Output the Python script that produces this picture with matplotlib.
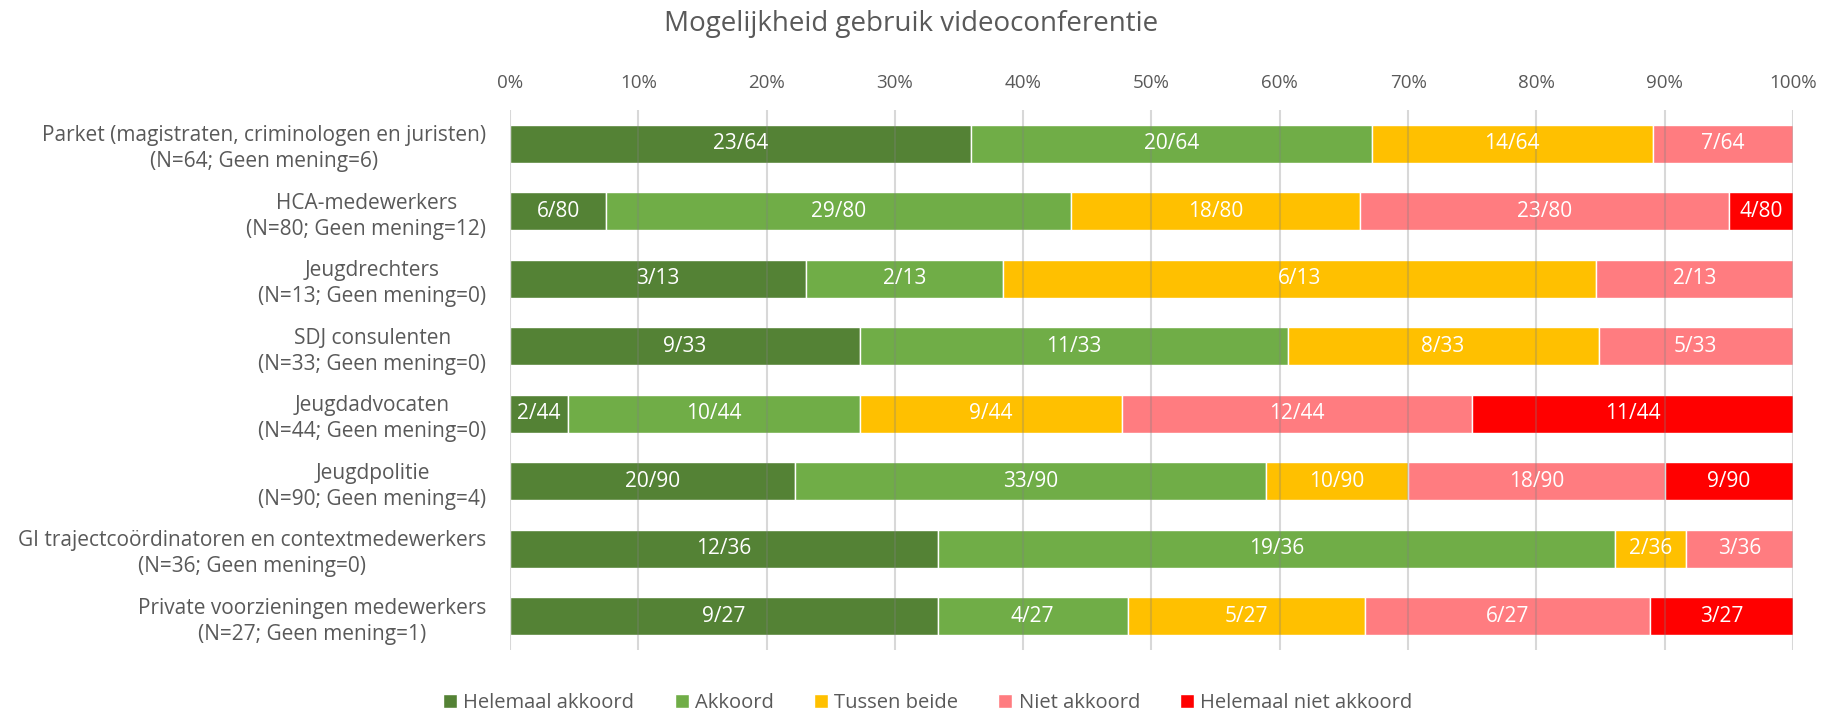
import numpy as np
import matplotlib
matplotlib.use("Agg")
import matplotlib.pyplot as plt

plt.rcParams.update({
    "font.family": ["Open Sans", "DejaVu Sans"],
    "text.color": "#595959",
    "axes.labelcolor": "#595959",
    "xtick.color": "#595959",
    "ytick.color": "#595959",
})

# ── Data ─────────────────────────────────────────────────────────────
groups = [
    "Parket (magistraten, criminologen en juristen)\n(N=64; Geen mening=6)",
    "HCA-medewerkers\n(N=80; Geen mening=12)",
    "Jeugdrechters\n(N=13; Geen mening=0)",
    "SDJ consulenten\n(N=33; Geen mening=0)",
    "Jeugdadvocaten\n(N=44; Geen mening=0)",
    "Jeugdpolitie\n(N=90; Geen mening=4)",
    "GI trajectcoördinatoren en contextmedewerkers\n(N=36; Geen mening=0)",
    "Private voorzieningen medewerkers\n(N=27; Geen mening=1)",
]
totals = [64, 80, 13, 33, 44, 90, 36, 27]

answers = ["Helemaal akkoord", "Akkoord", "Tussen beide",
           "Niet akkoord", "Helemaal niet akkoord"]
helemaal_akkoord      = [23, 6, 3, 9, 2, 20, 12, 9]
akkoord               = [20, 29, 2, 11, 10, 33, 19, 4]
tussen_beide          = [14, 18, 6, 8, 9, 10, 2, 5]
niet_akkoord          = [7, 23, 2, 5, 12, 18, 3, 6]
helemaal_niet_akkoord = [0, 4, 0, 0, 11, 9, 0, 3]

counts = [helemaal_akkoord, akkoord, tussen_beide, niet_akkoord,
          helemaal_niet_akkoord]
colors = ["#548235", "#70AD47", "#FFC000", "#FF7C80", "#FF0000"]

# ── Plot ─────────────────────────────────────────────────────────────
fig = plt.figure(figsize=(18.23, 7.11), dpi=100)
ax = fig.add_axes([0.2798, 0.0858, 0.7037, 0.7595])

y = np.arange(len(groups))
tot = np.array(totals, dtype=float)
left = np.zeros(len(groups))
for name, vals, col in zip(answers, counts, colors):
    vals = np.array(vals, dtype=float)
    frac = vals / tot
    bars = ax.barh(y, frac, left=left, height=0.56, color=col,
                   edgecolor="white", linewidth=1.0, label=name, zorder=2)
    for b, v, n in zip(bars, vals, totals):
        if v > 0:
            ax.text(b.get_x() + b.get_width() / 2, b.get_y() + b.get_height() / 2,
                    f"{int(v)}/{n}", ha="center", va="center",
                    color="white", fontsize=15, zorder=4)
    left += frac

ax.set_xlim(0, 1)
ax.set_ylim(len(groups) - 0.5, -0.5)
ax.set_yticks(y)
ax.set_yticklabels(groups, fontsize=15, ha="right", multialignment="center",
                   linespacing=1.3)
ax.tick_params(axis="y", length=0, pad=17)
ax.xaxis.tick_top()
ticks = np.linspace(0, 1, 11)
ax.set_xticks(ticks)
ax.set_xticklabels([f"{int(round(t * 100))}%" for t in ticks], fontsize=13.5)
ax.tick_params(axis="x", length=0, pad=13)
for s in ax.spines.values():
    s.set_visible(False)
ax.grid(axis="x", color="#808080", alpha=0.3, linewidth=1.5, zorder=3)
ax.set_axisbelow(False)

fig.text(0.5, 0.966, "Mogelijkheid gebruik videoconferentie", fontsize=20,
         color="#595959", ha="center", va="center")

fig.legend(loc="lower center", bbox_to_anchor=(0.509, -0.028), ncol=5,
           frameon=False, fontsize=14.5, handlelength=0.7, handleheight=0.7,
           handletextpad=0.3, columnspacing=2.0)

plt.savefig("out.png", dpi=100)
plt.close()
